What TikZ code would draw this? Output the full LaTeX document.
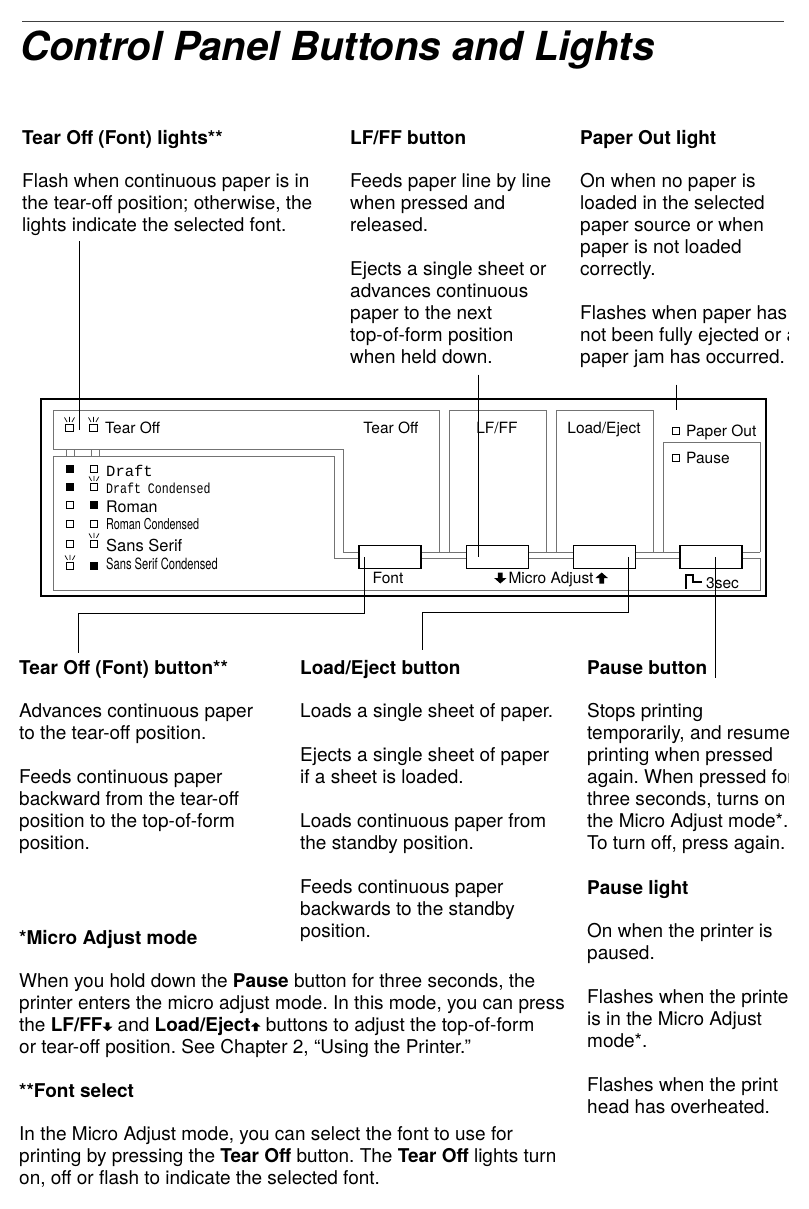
\documentclass[tikz,border=0pt]{standalone}
\usepackage{fontspec}
\setmainfont{TeX Gyre Heros}
\setmonofont{Liberation Mono}
\newfontfamily\condsans[FakeStretch=0.72]{TeX Gyre Heros}
\newfontfamily\condmono[FakeStretch=0.8]{Liberation Mono}
\usetikzlibrary{positioning,calc}
\newcommand{\dnarr}[1][1]{\tikz[x=#1pt,y=#1pt,baseline=0pt]\fill (-2.4,11)--(2.4,11)--(2.4,5.5)--(6.2,5.5)--(0,0)--(-6.2,5.5)--(-2.4,5.5)--cycle;}
\newcommand{\uparr}[1][1]{\tikz[x=#1pt,y=#1pt,baseline=0pt]\fill (0,11)--(6.2,5.5)--(2.4,5.5)--(2.4,0)--(-2.4,0)--(-2.4,5.5)--(-6.2,5.5)--cycle;}
\frenchspacing

\begin{document}
\begin{tikzpicture}[x=1pt,y=-1pt,
  txt/.style={anchor=north west,align=left,inner sep=0pt,yshift=15pt,
    execute at begin node={\rule{0pt}{15pt}},font=\fontsize{19}{22}\selectfont},
  hd/.style={txt,font=\bfseries\fontsize{19}{22}\selectfont},
  lbl/.style={anchor=base,inner sep=0pt,font=\fontsize{15.5}{18}\selectfont},
  fnt/.style={anchor=base west,inner sep=0pt},
  zone/.style={draw=black!55,line width=0.9pt},
  btn/.style={draw,fill=white,line width=1.6pt,minimum width=62pt,minimum height=23pt,inner sep=0pt},
  lamp/.style={draw,line width=0.7pt,minimum size=7.5pt,inner sep=0pt},
  lampon/.style={lamp,fill=black},
  rays/.pic={\draw[line width=0.7pt] (0,-2)--(0,-7) (-2.5,-2)--(-5,-6.5) (2.5,-2)--(5,-6.5);},
  leader/.style={line width=0.9pt}
]
  \useasboundingbox (0,0) rectangle (808,1209);
  \clip (0,0) rectangle (788,1209);
  % Title
  \draw[line width=0.8pt,black!75] (22,21) -- (784,21);
  \node[anchor=base west,inner sep=0pt,font=\bfseries\itshape\fontsize{40}{44}\selectfont]
    (title) at (20,61) {Control Panel Buttons and Lights};
  % Upper texts
  \node[hd] (tolhd) at (22,144) {Tear Off (Font) lights**};
  \node[txt] (tolbody) at (22,188) {Flash when continuous paper is in\\the tear-off position; otherwise, the\\lights indicate the selected font.};
  \node[hd] (lfhd) at (350,144) {LF/FF button};
  \node[txt] (lfbody) at (350,188) {Feeds paper line by line\\when pressed and\\released.\\[22pt]Ejects a single sheet or\\advances continuous\\paper to the next\\top-of-form position\\when held down.};
  \node[hd] (pohd) at (580,144) {Paper Out light};
  \node[txt] (pobody) at (580,188) {On when no paper is\\loaded in the selected\\paper source or when\\paper is not loaded\\correctly.\\[22pt]Flashes when paper has\\not been fully ejected or a\\paper jam has occurred.};
  % Panel frame and zones
  \draw[line width=2.8pt] (41,399) rectangle (766,596);
  \draw[zone] (343,552) -- (343,449) -- (53,449) -- (53,410) -- (439,410) -- (439,552);
  \draw[zone] (449,552) -- (449,410) -- (546,410) -- (546,552);
  \draw[zone] (556,552) -- (556,410) -- (653,410) -- (653,552);
  \draw[zone] (663,552) -- (663,442) -- (760,442) -- (760,552);
  \draw[zone] (343,552) -- (760,552);
  \draw[zone] (334,558) -- (334,456) -- (53,456) -- (53,590) -- (760,590) -- (760,558) -- cycle;
  \draw[zone] (66,449) -- (66,456) (74,449) -- (74,456) (91,449) -- (91,456) (99,449) -- (99,456);
  % Buttons
  \node[btn] (fontbtn) at (390,557) {};
  \node[btn] (lfbtn) at (497.5,557) {};
  \node[btn] (loadbtn) at (604.5,557) {};
  \node[btn] (pausebtn) at (711,557) {};
  % Tear Off lights
  \node[lamp] (tl1) at (69.5,428) {}; \pic at (tl1.north) {rays};
  \node[lamp] (tl2) at (93.5,428) {}; \pic at (tl2.north) {rays};
  \node[lbl,anchor=base west] (tolbl) at (105,433.5) {Tear Off};
  % Font list
  \node[lampon] (d1) at (70,469) {};
  \node[lamp] (d2) at (94,469) {};
  \node[fnt,font=\ttfamily\fontsize{15.5}{18}\selectfont] (draftlbl) at (106,476) {Draft};
  \node[lampon] (dc1) at (70,487) {};
  \node[lamp] (dc2) at (94,487) {}; \pic at (dc2.north) {rays};
  \node[fnt,font=\condmono\fontsize{14.5}{18}\selectfont] (dclbl) at (106,493) {Draft Condensed};
  \node[lamp] (r1) at (70,505) {};
  \node[lampon] (r2) at (94,505) {};
  \node[fnt,font=\fontsize{16}{18}\selectfont] (romanlbl) at (106,512) {Roman};
  \node[lamp] (rc1) at (70,524) {};
  \node[lamp] (rc2) at (94,524) {};
  \node[fnt,font=\condsans\fontsize{15}{18}\selectfont] (rclbl) at (106,529) {Roman Condensed};
  \node[lamp] (s1) at (70,544) {};
  \node[lamp] (s2) at (94,544) {}; \pic at (s2.north) {rays};
  \node[fnt,font=\fontsize{16.5}{18}\selectfont] (sslbl) at (106,551) {Sans Serif};
  \node[lamp] (sc1) at (70,566) {}; \pic at (sc1.north) {rays};
  \node[lampon] (sc2) at (94,566) {};
  \node[fnt,font=\condsans\fontsize{15.5}{18}\selectfont] (ssclbl) at (106,569) {Sans Serif Condensed};
  % Panel labels
  \node[lbl] (tofflbl) at (391,433.5) {Tear Off};
  \node[lbl] (lflbl) at (497,433.5) {LF/FF};
  \node[lbl] (loadlbl) at (604,433.5) {Load/Eject};
  \node[lamp] (polamp) at (676,431) {};
  \node[lbl,anchor=base west] (pololbl) at (686,436.5) {Paper Out};
  \node[lamp] (palamp) at (676,458) {};
  \node[lbl,anchor=base west] (palbl) at (686,463.5) {Pause};
  \node[lbl] (fontlbl) at (388,583.5) {Font};
  \node[lbl] (microlbl) at (551,583.5) {\dnarr\hspace{2pt}Micro Adjust\hspace{2pt}\uparr};
  \draw[line width=1.2pt] (686,589) -- (686,575) -- (693,575) -- (693,582) -- (702,582);
  \node[lbl,anchor=base west] (seclbl) at (706,588) {3sec};
  % Leaders
  \coordinate (tolend) at (79,430);
  \draw[leader] ([yshift=-6pt]tolbody.south west -| tolend) -- (tolend);
  \coordinate (lfend) at ([xshift=-19.5pt]lfbtn.center);
  \draw[leader] ([yshift=-11pt]lfbody.south -| lfend) -- (lfend);
  \draw[leader] ([yshift=-17pt]pobody.south -| polamp) -- ([yshift=17pt]polamp.north);
  \coordinate (tobtop) at (78,653);
  \draw[leader] ([xshift=-26pt]fontbtn.center) -- ++(0,56) -| (tobtop);
  \coordinate (letop) at (422,650);
  \draw[leader] ([xshift=23.5pt]loadbtn.center) -- ++(0,55) -| (letop);
  \coordinate (pbend) at (715,678);
  \draw[leader] ([xshift=4pt]pausebtn.center) -- (pbend);
  % Lower texts
  \node[hd] (tobhd) at (19,674) {Tear Off (Font) button**};
  \node[txt] (tobbody) at (19,718) {Advances continuous paper\\to the tear-off position.\\[22pt]Feeds continuous paper\\backward from the tear-off\\position to the top-of-form\\position.};
  \node[hd] (lehd) at (300,674) {Load/Eject button};
  \node[txt] (lebody) at (300,718) {Loads a single sheet of paper.\\[22pt]Ejects a single sheet of paper\\if a sheet is loaded.\\[22pt]Loads continuous paper from\\the standby position.\\[22pt]Feeds continuous paper\\backwards to the standby\\position.};
  \node[hd] (pbhd) at (587,674) {Pause button};
  \node[txt] (pbbody) at (587,718) {Stops printing\\temporarily, and resume\\printing when pressed\\again. When pressed for\\three seconds, turns on\\the Micro Adjust mode*.\\To turn off, press again.};
  \node[hd] (plhd) at (587,894) {Pause light};
  \node[txt] (plbody) at (587,938) {On when the printer is\\paused.\\[22pt]Flashes when the printer\\is in the Micro Adjust\\mode*.\\[22pt]Flashes when the print\\head has overheated.};
  \node[hd] (mahd) at (19,944) {*Micro Adjust mode};
  \node[txt] (mabody) at (19,988) {When you hold down the \textbf{Pause} button for three seconds, the\\printer enters the micro adjust mode. In this mode, you can press\\the \textbf{LF/FF}\dnarr[0.8] and \textbf{Load/Eject}\uparr[0.8] buttons to adjust the top-of-form\\or tear-off position. See Chapter 2, “Using the Printer.”};
  \node[hd] (fshd) at (19,1097) {**Font select};
  \node[txt] (fsbody) at (19,1141) {In the Micro Adjust mode, you can select the font to use for\\printing by pressing the \textbf{Tear Off} button. The \textbf{Tear Off} lights turn\\on, off or flash to indicate the selected font.};
\end{tikzpicture}
\end{document}
